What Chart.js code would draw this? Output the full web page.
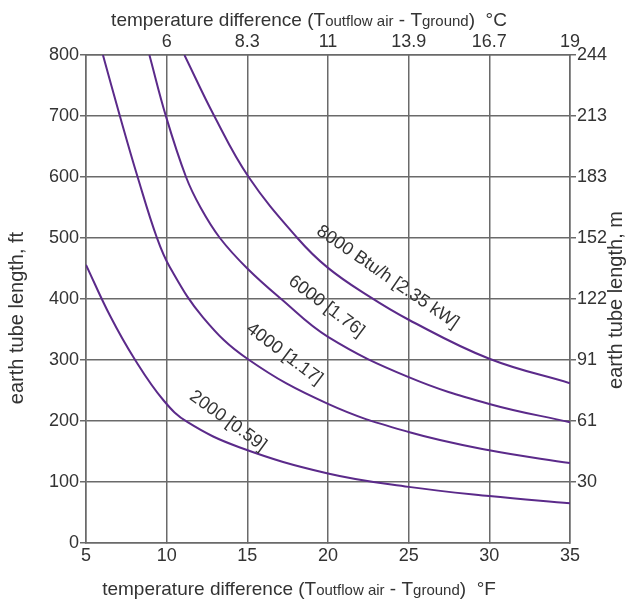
<!DOCTYPE html>
<html>
<head>
<meta charset="utf-8">
<script src="https://cdn.jsdelivr.net/npm/chart.js@4/dist/chart.umd.min.js"></script>
<style>
  html, body { margin: 0; padding: 0; background: #ffffff; }
  #wrap { width: 634px; height: 604px; position: relative; }
</style>
</head>
<body>
<div id="wrap"><canvas id="c" width="634" height="604"></canvas></div>
<script>
// Temperature difference (°F) and required earth tube length (ft) per heat load
const dT2000 = [5, 6.5, 8, 9.8, 11.3, 14.5, 20, 25, 30, 35];
const len2000 = [456, 372, 302, 234, 198, 157, 114, 92, 77, 65];

const dT4000 = [6.05, 7.1, 8.2, 9.4, 10.2, 12.25, 15, 20, 25, 30, 35];
const len4000 = [800, 700, 600, 500, 452, 370, 302, 228, 182, 152, 131];

const dT6000 = [8.93, 9.95, 11.2, 12.1, 13.3, 15, 17.1, 20, 25, 30, 35];
const len6000 = [800, 700, 600, 550, 500, 450, 400, 338, 272, 228, 198];

const dT8000 = [11.1, 12.95, 15.08, 18.1, 20, 22.5, 25, 30, 35];
const len8000 = [800, 700, 600, 500, 451, 405, 366, 302, 262];

// Curve captions and where they sit (data coordinates, angle in degrees)
const curveLabels = ['8000 Btu/h [2.35 kW]', '6000 [1.76]', '4000 [1.17]', '2000 [0.59]'];
const labelX = [23.7, 19.9, 17.3, 13.8];
const labelY = [436, 388, 310, 200];
const labelAngle = [34.5, 37, 37, 36];

// Secondary axis tick labels
const celsiusTicksAtF = [10, 15, 20, 25, 30, 35];
const celsiusLabels = ['6', '8.3', '11', '13.9', '16.7', '19'];
const meterTicksAtFt = [100, 200, 300, 400, 500, 600, 700, 800];
const meterLabels = ['30', '61', '91', '122', '152', '183', '213', '244'];

const curveColor = '#5b2a8a';
const gridColor = '#6a6a6a';
const textColor = '#333333';
const fontFamily = '"Liberation Sans", Arial, sans-serif';
const tickFont = { family: fontFamily, size: 18 };

function pts(xs, ys) { return xs.map((x, i) => ({ x: x, y: ys[i] })); }

function lineSet(xs, ys) {
  return {
    data: pts(xs, ys),
    borderColor: curveColor,
    borderWidth: 2,
    pointRadius: 0,
    fill: false,
    tension: 0.4
  };
}

// Draws a string made of runs with different font sizes, centred on (cx, cy)
function drawRuns(ctx, runs, cx, cy, rotate) {
  ctx.save();
  ctx.translate(cx, cy);
  if (rotate) ctx.rotate(rotate);
  let total = 0;
  runs.forEach(r => { ctx.font = r.size + 'px ' + fontFamily; total += ctx.measureText(r.t).width; });
  let x = -total / 2;
  ctx.textAlign = 'left';
  ctx.textBaseline = 'alphabetic';
  ctx.fillStyle = textColor;
  runs.forEach(r => {
    ctx.font = r.size + 'px ' + fontFamily;
    ctx.fillText(r.t, x, 7);
    x += ctx.measureText(r.t).width;
  });
  ctx.restore();
}

function titleRuns(unit) {
  return [
    { t: 'temperature difference (T', size: 19 },
    { t: 'outflow air', size: 15 },
    { t: ' - T', size: 19 },
    { t: 'ground', size: 15 },
    { t: ')  ' + unit, size: 19 }
  ];
}

const annotations = {
  id: 'annotations',
  afterDatasetsDraw(chart) {
    const ctx = chart.ctx;
    const xs = chart.scales.x, ys = chart.scales.y;
    ctx.save();
    ctx.fillStyle = textColor;
    ctx.font = '18px ' + fontFamily;
    ctx.textAlign = 'center';
    ctx.textBaseline = 'middle';
    curveLabels.forEach((t, i) => {
      ctx.save();
      ctx.translate(xs.getPixelForValue(labelX[i]), ys.getPixelForValue(labelY[i]));
      ctx.rotate(labelAngle[i] * Math.PI / 180);
      ctx.fillText(t, 0, 0);
      ctx.restore();
    });
    ctx.restore();

    drawRuns(ctx, titleRuns('\u00B0C'), 309, 19, 0);
    drawRuns(ctx, titleRuns('\u00B0F'), 299, 588, 0);
    drawRuns(ctx, [{ t: 'earth tube length, ft', size: 20 }], 16, 318, -Math.PI / 2);
    drawRuns(ctx, [{ t: 'earth tube length, m', size: 20 }], 615, 300, -Math.PI / 2);
  }
};

new Chart(document.getElementById('c'), {
  type: 'line',
  data: {
    datasets: [
      lineSet(dT2000, len2000),
      lineSet(dT4000, len4000),
      lineSet(dT6000, len6000),
      lineSet(dT8000, len8000)
    ]
  },
  options: {
    responsive: false,
    animation: false,
    layout: { padding: 0 },
    plugins: { legend: { display: false }, tooltip: { enabled: false } },
    scales: {
      x: {
        type: 'linear', position: 'bottom', min: 5, max: 35,
        afterFit(s) { s.height = 61; },
        ticks: { stepSize: 5, color: textColor, font: tickFont, padding: 2, maxRotation: 0 },
        grid: { color: gridColor, lineWidth: 1.5, tickLength: 0 },
        border: { color: gridColor, width: 1.5 }
      },
      x2: {
        type: 'linear', position: 'top', min: 5, max: 35,
        afterFit(s) { s.height = 55; },
        afterBuildTicks(s) { s.ticks = celsiusTicksAtF.map(v => ({ value: v })); },
        ticks: {
          color: textColor, font: tickFont, padding: 2, maxRotation: 0,
          callback: v => celsiusLabels[celsiusTicksAtF.indexOf(v)] || ''
        },
        grid: { display: false, drawOnChartArea: false, tickLength: 0 },
        border: { color: gridColor, width: 1.5 }
      },
      y: {
        position: 'left', min: 0, max: 800,
        afterFit(s) { s.width = 86; },
        ticks: { stepSize: 100, color: textColor, font: tickFont, padding: 1 },
        grid: { color: gridColor, lineWidth: 1.5, tickLength: 6 },
        border: { color: gridColor, width: 1.5 }
      },
      y2: {
        position: 'right', min: 0, max: 800,
        afterFit(s) { s.width = 64; },
        afterBuildTicks(s) { s.ticks = meterTicksAtFt.map(v => ({ value: v })); },
        ticks: {
          color: textColor, font: tickFont, padding: 1,
          callback: v => meterLabels[meterTicksAtFt.indexOf(v)] || ''
        },
        grid: { drawOnChartArea: false, color: gridColor, lineWidth: 1.5, tickLength: 6 },
        border: { color: gridColor, width: 1.5 }
      }
    }
  },
  plugins: [annotations]
});
</script>
</body>
</html>
